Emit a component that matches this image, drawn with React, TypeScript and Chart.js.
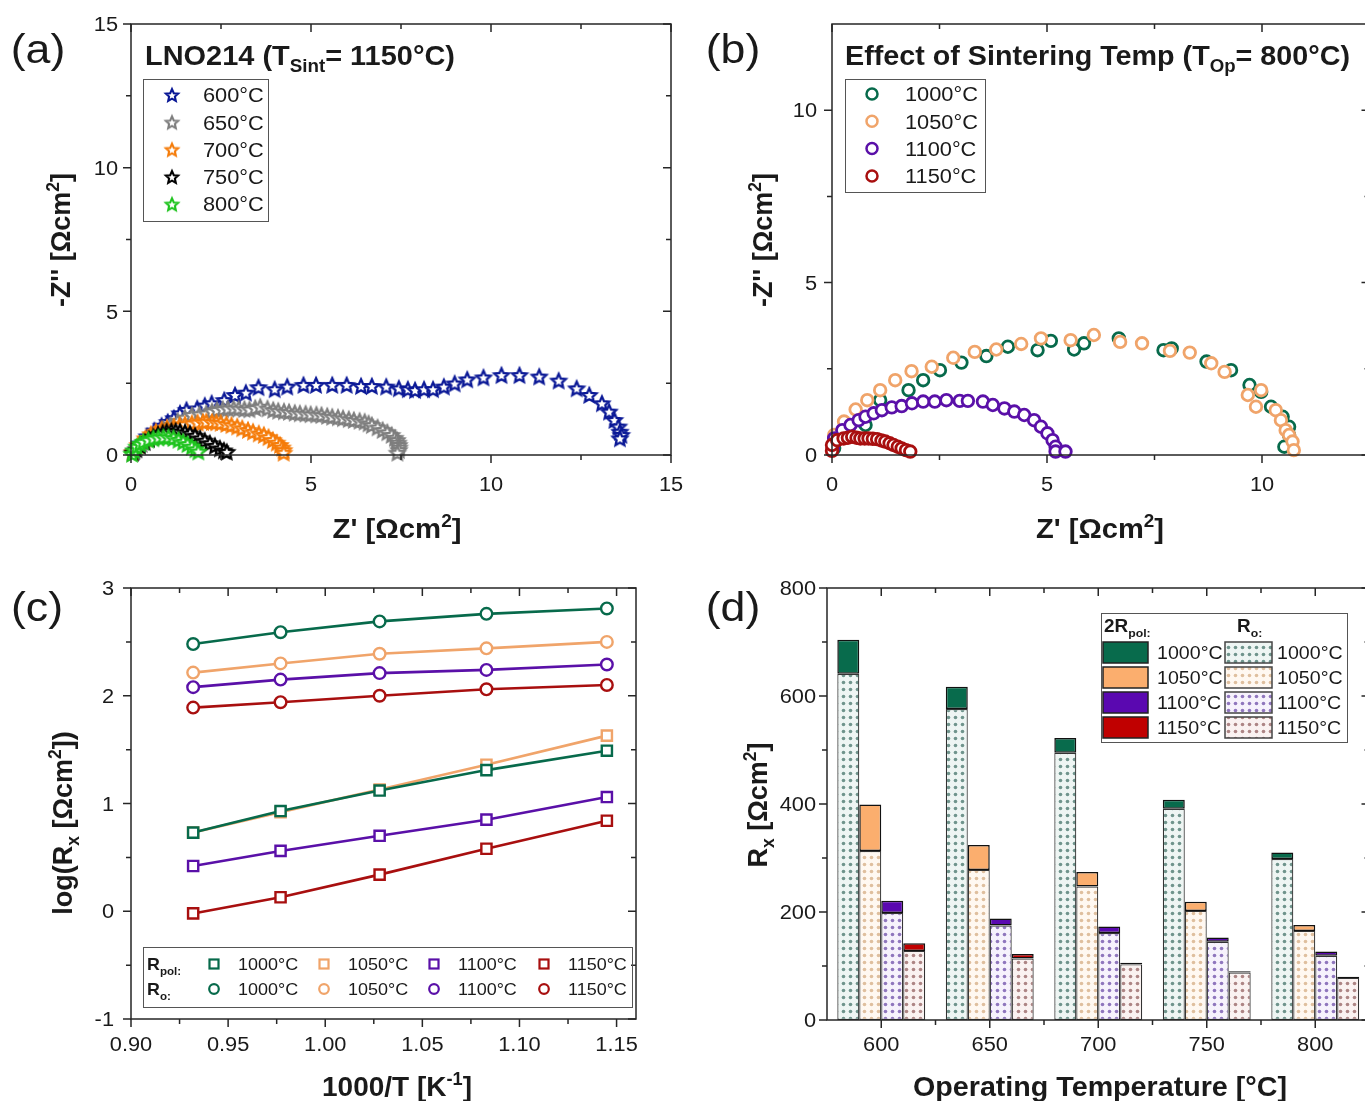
import { useEffect, useRef } from 'react';
import { Chart, registerables } from 'chart.js';

Chart.register(...registerables);

const FONT = "'Liberation Sans', Arial, Helvetica, sans-serif";
const INK = '#1a1a1a';

// ---------------- (a) Nyquist, LNO214 sintered at 1150°C
const opTempLabels = ['600°C', '650°C', '700°C', '750°C', '800°C'];
const opTempColors = ['#0a1896', '#7e7e7e', '#f57c0a', '#000000', '#1fc41f'];
const nyq600: number[][] = [
  [0.08, 0.12], [0.25, 0.4], [0.45, 0.65], [0.65, 0.85], [0.85, 1.02], [1.02, 1.15], [1.19, 1.28], [1.36, 1.45],
  [1.54, 1.57], [1.84, 1.62], [2.05, 1.72], [2.24, 1.8], [2.59, 1.91], [2.89, 2.09], [3.19, 2.17], [3.54, 2.36],
  [3.99, 2.29], [4.34, 2.38], [4.79, 2.44], [5.14, 2.44], [5.59, 2.44], [5.99, 2.44], [6.39, 2.4], [6.69, 2.4],
  [7.09, 2.38], [7.44, 2.32], [7.69, 2.29], [7.89, 2.26], [8.14, 2.29], [8.39, 2.29], [8.69, 2.38], [8.99, 2.49],
  [9.34, 2.63], [9.79, 2.7], [10.29, 2.78], [10.79, 2.78], [11.34, 2.73], [11.88, 2.59], [12.38, 2.32], [12.73, 2.09],
  [13.08, 1.8], [13.28, 1.51], [13.43, 1.22], [13.54, 0.99], [13.58, 0.81], [13.62, 0.7], [13.58, 0.58],
];
const nyq650: number[][] = [
  [0.1, 0.15], [0.3, 0.38], [0.5, 0.6], [0.7, 0.78], [0.9, 0.92], [1.1, 1.05], [1.3, 1.18], [1.5, 1.3], [1.69, 1.39],
  [1.9, 1.42], [2.09, 1.45], [2.25, 1.52], [2.39, 1.57], [2.55, 1.6], [2.69, 1.62], [2.85, 1.63], [2.99, 1.62],
  [3.15, 1.6], [3.29, 1.59], [3.45, 1.64], [3.59, 1.68], [3.79, 1.62], [3.95, 1.57], [4.09, 1.54], [4.25, 1.52],
  [4.39, 1.5], [4.55, 1.47], [4.69, 1.45], [4.85, 1.44], [4.99, 1.42], [5.15, 1.41], [5.29, 1.39], [5.45, 1.36],
  [5.59, 1.33], [5.75, 1.31], [5.89, 1.28], [6.05, 1.25], [6.19, 1.22], [6.35, 1.19], [6.49, 1.16], [6.6, 1.1],
  [6.69, 1.04], [6.85, 0.96], [6.99, 0.87], [7.12, 0.79], [7.24, 0.7], [7.33, 0.6], [7.39, 0.52], [7.42, 0.43],
  [7.44, 0.35], [7.45, 0.26], [7.44, 0.17], [7.4, 0.08],
];
const nyq700: number[][] = [
  [0.05, 0.1], [0.2, 0.35], [0.4, 0.58], [0.55, 0.72], [0.69, 0.81], [0.85, 0.9], [1.0, 0.95], [1.19, 0.99],
  [1.35, 1.04], [1.5, 1.07], [1.69, 1.1], [1.85, 1.13], [2.0, 1.15], [2.09, 1.16], [2.25, 1.15], [2.37, 1.14],
  [2.49, 1.12], [2.65, 1.08], [2.79, 1.04], [2.95, 0.99], [3.09, 0.93], [3.25, 0.87], [3.39, 0.81], [3.55, 0.75],
  [3.69, 0.7], [3.82, 0.62], [3.94, 0.52], [4.05, 0.43], [4.14, 0.35], [4.2, 0.26], [4.24, 0.17], [4.24, 0.08],
];
const nyq750: number[][] = [
  [0.05, 0.08], [0.15, 0.2], [0.25, 0.32], [0.38, 0.45], [0.5, 0.56], [0.62, 0.64], [0.75, 0.72], [0.88, 0.78],
  [0.99, 0.82], [1.12, 0.84], [1.24, 0.84], [1.36, 0.82], [1.5, 0.79], [1.64, 0.75], [1.78, 0.67], [1.92, 0.58],
  [2.05, 0.5], [2.19, 0.41], [2.33, 0.32], [2.47, 0.23], [2.58, 0.16], [2.66, 0.11],
];
const nyq800: number[][] = [
  [0.03, 0.04], [0.08, 0.16], [0.16, 0.29], [0.25, 0.39], [0.34, 0.46], [0.48, 0.53], [0.62, 0.58], [0.76, 0.61],
  [0.9, 0.62], [1.04, 0.62], [1.18, 0.59], [1.32, 0.53], [1.45, 0.46], [1.57, 0.38], [1.69, 0.29], [1.79, 0.2], [1.87, 0.12],
];
const nyqA = [nyq600, nyq650, nyq700, nyq750, nyq800];

// ---------------- (b) Nyquist, effect of sintering temperature at 800°C
const sinterLabels = ['1000°C', '1050°C', '1100°C', '1150°C'];
const sinterColors = ['#076a4b', '#f0a46a', '#5a10a8', '#a80f0f'];
const sin1000: number[][] = [
  [0.05, 0.2], [0.35, 0.55], [0.78, 0.87], [1.12, 1.59], [1.78, 1.88], [2.12, 2.17], [2.51, 2.46], [3.01, 2.68],
  [3.59, 2.87], [4.09, 3.14], [4.78, 3.04], [5.09, 3.31], [5.63, 3.06], [5.86, 3.24], [6.67, 3.38], [7.71, 3.04],
  [7.9, 3.09], [8.71, 2.71], [9.28, 2.46], [9.71, 2.03], [9.98, 1.83], [10.21, 1.4], [10.48, 1.11], [10.63, 0.82],
  [10.63, 0.58], [10.52, 0.24],
];
const sin1050: number[][] = [
  [0.05, 0.58], [0.28, 0.97], [0.55, 1.32], [0.82, 1.59], [1.12, 1.88], [1.47, 2.17], [1.85, 2.43], [2.32, 2.56],
  [2.82, 2.82], [3.32, 2.99], [3.82, 3.06], [4.4, 3.22], [4.86, 3.38], [5.55, 3.33], [6.09, 3.48], [6.7, 3.28],
  [7.21, 3.24], [7.86, 3.02], [8.32, 2.97], [8.82, 2.66], [9.13, 2.41], [9.67, 1.74], [9.86, 1.4], [9.98, 1.88],
  [10.32, 1.3], [10.44, 1.01], [10.55, 0.72], [10.63, 0.58], [10.71, 0.39], [10.74, 0.14],
];
const sin1100: number[][] = [
  [0.02, 0.2], [0.05, 0.48], [0.24, 0.72], [0.43, 0.87], [0.62, 1.01], [0.78, 1.11], [0.97, 1.21], [1.16, 1.3],
  [1.39, 1.38], [1.62, 1.42], [1.86, 1.5], [2.12, 1.55], [2.39, 1.55], [2.66, 1.59], [2.97, 1.57], [3.16, 1.57],
  [3.51, 1.55], [3.74, 1.45], [4.01, 1.35], [4.24, 1.26], [4.47, 1.16], [4.7, 1.01], [4.86, 0.82], [5.01, 0.63],
  [5.13, 0.43], [5.2, 0.24], [5.2, 0.1], [5.43, 0.1],
];
const sin1150: number[][] = [
  [0.0, 0.12], [0.0, 0.29], [0.12, 0.43], [0.27, 0.48], [0.37, 0.5], [0.47, 0.53], [0.57, 0.5], [0.66, 0.48],
  [0.76, 0.48], [0.85, 0.48], [0.95, 0.47], [1.05, 0.46], [1.15, 0.42], [1.24, 0.39], [1.34, 0.34], [1.43, 0.29],
  [1.53, 0.24], [1.62, 0.19], [1.72, 0.14], [1.82, 0.1],
];
const nyqB = [sin1000, sin1050, sin1100, sin1150];

// ---------------- (c) Arrhenius plot
const invT = [0.932, 0.977, 1.028, 1.083, 1.145];
const logRo1000 = [2.48, 2.59, 2.69, 2.76, 2.81];
const logRo1050 = [2.215, 2.3, 2.39, 2.44, 2.5];
const logRo1100 = [2.08, 2.15, 2.21, 2.24, 2.29];
const logRo1150 = [1.89, 1.94, 2.0, 2.06, 2.1];
const logRpol1000 = [0.73, 0.93, 1.12, 1.31, 1.49];
const logRpol1050 = [0.73, 0.92, 1.13, 1.36, 1.63];
const logRpol1100 = [0.42, 0.56, 0.7, 0.85, 1.06];
const logRpol1150 = [-0.02, 0.13, 0.34, 0.58, 0.84];
const logRo = [logRo1000, logRo1050, logRo1100, logRo1150];
const logRpol = [logRpol1000, logRpol1050, logRpol1100, logRpol1150];

// ---------------- (d) stacked bars
const opTempCats = ['600', '650', '700', '750', '800'];
const ro1000 = [641, 576, 495, 391, 298];
const pol1000 = [63, 41, 27, 17, 12];
const ro1050 = [313, 278, 247, 202, 165];
const pol1050 = [86, 46, 27, 17, 11];
const ro1100 = [198, 175, 161, 145, 119];
const pol1100 = [23, 13, 12, 8, 8];
const ro1150 = [128, 114, 103, 88, 78];
const pol1150 = [14, 8, 3, 2.5, 2];
const roBars = [ro1000, ro1050, ro1100, ro1150];
const polBars = [pol1000, pol1050, pol1100, pol1150];
const polColors = ['#086b4c', '#fbae6e', '#5a08b0', '#c00000'];
const roDotColors = ['#6f948c', '#dfbf9e', '#8f76bd', '#ad8585'];
const roBgColors = ['#eef5f3', '#fff8f1', '#f6f2fc', '#faf2f1'];

// ---------------- tick values / labels
const aXMajor = [0, 5, 10, 15];
const aXMinor = [2.5, 7.5, 12.5];
const aXLabels = ['0', '5', '10', '15'];
const aYMajor = [0, 5, 10, 15];
const aYMinor = [2.5, 7.5, 12.5];
const aYLabels = ['0', '5', '10', '15'];
const bXMajor = [0, 5, 10];
const bXMinor = [2.5, 7.5, 12.5];
const bXLabels = ['0', '5', '10'];
const bYMajor = [0, 5, 10];
const bYMinor = [2.5, 7.5];
const bYLabels = ['0', '5', '10'];
const cXMajor = [0.9, 0.95, 1.0, 1.05, 1.1, 1.15];
const cXMinor = [0.925, 0.975, 1.025, 1.075, 1.125];
const cXLabels = ['0.90', '0.95', '1.00', '1.05', '1.10', '1.15'];
const cYMajor = [-1, 0, 1, 2, 3];
const cYMinor = [-0.5, 0.5, 1.5, 2.5];
const cYLabels = ['-1', '0', '1', '2', '3'];
const dYMajor = [0, 200, 400, 600, 800];
const dYMinor = [100, 300, 500, 700];
const dYLabels = ['0', '200', '400', '600', '800'];
const dXMajor = [0, 1, 2, 3, 4];
const dXMinor = [0.5, 1.5, 2.5, 3.5];

// ---------------- helpers
type Seg = { t: string; k?: 'sub' | 'sup' };
type RichOpts = {
  size: number; bold?: boolean; align?: 'left' | 'center' | 'right';
  rot?: number; sx?: number; fitW?: number; color?: string;
};
function drawRich(ctx: CanvasRenderingContext2D, segs: string | Seg[], x: number, y: number, o: RichOpts) {
  const list: Seg[] = typeof segs === 'string' ? [{ t: segs }] : segs;
  ctx.save();
  const fontFor = (s: Seg) => `${o.bold ? 'bold ' : ''}${s.k ? o.size * 0.65 : o.size}px ${FONT}`;
  let w = 0;
  const widths = list.map((s) => {
    ctx.font = fontFor(s);
    const m = ctx.measureText(s.t).width;
    w += m;
    return m;
  });
  let sx = o.sx ?? 1;
  if (o.fitW) sx = o.fitW / w;
  ctx.translate(x, y);
  if (o.rot) ctx.rotate(o.rot);
  ctx.scale(sx, 1);
  let cx = o.align === 'center' ? -w / 2 : o.align === 'right' ? -w : 0;
  const base = o.size * 0.36;
  ctx.fillStyle = o.color ?? INK;
  ctx.textBaseline = 'alphabetic';
  ctx.textAlign = 'left';
  list.forEach((s, i) => {
    ctx.font = fontFor(s);
    const dy = s.k === 'sub' ? o.size * 0.27 : s.k === 'sup' ? -o.size * 0.4 : 0;
    ctx.fillText(s.t, cx, base + dy);
    cx += widths[i];
  });
  ctx.restore();
}

function starCanvas(color: string, r: number, lw: number) {
  const size = Math.ceil(2 * r + lw * 2 + 2);
  const c = document.createElement('canvas');
  c.width = size;
  c.height = size;
  const g = c.getContext('2d')!;
  g.translate(size / 2, size / 2 + r * 0.1);
  g.beginPath();
  for (let i = 0; i < 10; i++) {
    const ang = -Math.PI / 2 + (i * Math.PI) / 5;
    const rad = i % 2 === 0 ? r : r * 0.47;
    g.lineTo(Math.cos(ang) * rad, Math.sin(ang) * rad);
  }
  g.closePath();
  g.fillStyle = '#fff';
  g.fill();
  g.lineWidth = lw;
  g.lineJoin = 'miter';
  g.strokeStyle = color;
  g.stroke();
  return c;
}

function dotPattern(ctx: CanvasRenderingContext2D, bg: string, dot: string) {
  const c = document.createElement('canvas');
  c.width = 7;
  c.height = 7;
  const g = c.getContext('2d')!;
  g.fillStyle = bg;
  g.fillRect(0, 0, 7, 7);
  g.fillStyle = dot;
  g.beginPath();
  g.arc(3.5, 3.5, 1.8, 0, Math.PI * 2);
  g.fill();
  return ctx.createPattern(c, 'repeat')!;
}

type FrameCfg = {
  xMajor: number[]; xMinor: number[]; yMajor: number[]; yMinor: number[];
  xLabels: string[]; yLabels: string[]; xLabelDy: number; yLabelDx: number; labelSize: number;
};
function makeFrame(cfg: FrameCfg) {
  return {
    id: 'frame',
    afterDraw(chart: any) {
      const { ctx, chartArea: ca } = chart;
      const xs = chart.scales.x;
      const ys = chart.scales.y;
      ctx.save();
      ctx.strokeStyle = '#262626';
      ctx.lineWidth = 1.5;
      ctx.strokeRect(ca.left, ca.top, ca.right - ca.left, ca.bottom - ca.top);
      ctx.beginPath();
      const addX = (v: number, len: number) => {
        const p = xs.getPixelForValue(v);
        ctx.moveTo(p, ca.bottom);
        ctx.lineTo(p, ca.bottom + len);
        ctx.moveTo(p, ca.top);
        ctx.lineTo(p, ca.top + len);
      };
      const addY = (v: number, len: number) => {
        const p = ys.getPixelForValue(v);
        ctx.moveTo(ca.left - len, p);
        ctx.lineTo(ca.left, p);
        ctx.moveTo(ca.right - len, p);
        ctx.lineTo(ca.right, p);
      };
      cfg.xMajor.forEach((v) => addX(v, 8));
      cfg.xMinor.forEach((v) => addX(v, 5));
      cfg.yMajor.forEach((v) => addY(v, 8));
      cfg.yMinor.forEach((v) => addY(v, 5));
      ctx.stroke();
      ctx.restore();
      cfg.xMajor.forEach((v, i) =>
        drawRich(ctx, cfg.xLabels[i], xs.getPixelForValue(v), ca.bottom + cfg.xLabelDy, { size: cfg.labelSize, align: 'center', sx: 1.09 }),
      );
      cfg.yMajor.forEach((v, i) =>
        drawRich(ctx, cfg.yLabels[i], ca.left - cfg.yLabelDx, ys.getPixelForValue(v), { size: cfg.labelSize, align: 'right', sx: 1.09 }),
      );
    },
  };
}

const ohmTitle = (pre: string): Seg[] => [{ t: pre + ' [Ωcm' }, { t: '2', k: 'sup' }, { t: ']' }];

function baseOptions(padding: any) {
  return {
    responsive: false,
    animation: false as const,
    events: [] as any[],
    layout: { padding },
    plugins: { legend: { display: false }, tooltip: { enabled: false } },
  };
}

export default function App() {
  const refA = useRef<HTMLCanvasElement>(null);
  const refB = useRef<HTMLCanvasElement>(null);
  const refC = useRef<HTMLCanvasElement>(null);
  const refD = useRef<HTMLCanvasElement>(null);

  useEffect(() => {
    const charts: Chart[] = [];

    // ---------- (a)
    const stars = opTempColors.map((c) => starCanvas(c, 7.5, 2.3));
    const legStars = opTempColors.map((c) => starCanvas(c, 6.5, 2.1));
    charts.push(
      new Chart(refA.current!, {
        type: 'scatter',
        data: {
          datasets: nyqA.map((pts, i) => ({
            label: opTempLabels[i],
            data: pts.map(([x, y]) => ({ x, y })),
            pointStyle: stars[i] as any,
            pointRadius: 7,
            showLine: false,
            order: 4 - i,
            clip: false as any,
          })),
        },
        options: {
          ...baseOptions({ left: 131, top: 24, right: 29, bottom: 105 }),
          scales: {
            x: { type: 'linear', min: 0, max: 15, display: false },
            y: { type: 'linear', min: 0, max: 15, display: false },
          },
        } as any,
        plugins: [
          makeFrame({ xMajor: aXMajor, xMinor: aXMinor, yMajor: aYMajor, yMinor: aYMinor, xLabels: aXLabels, yLabels: aYLabels, xLabelDy: 29, yLabelDx: 13, labelSize: 20 }),
          {
            id: 'decorA',
            afterDraw(chart: any) {
              const ctx = chart.ctx as CanvasRenderingContext2D;
              drawRich(ctx, '(a)', 38, 48, { size: 41, align: 'center', sx: 1.09 });
              drawRich(ctx, [{ t: 'LNO214 (T' }, { t: 'Sint', k: 'sub' }, { t: '= 1150°C)' }], 145, 55, { size: 27, bold: true, fitW: 310 });
              ctx.save();
              ctx.strokeStyle = '#555';
              ctx.lineWidth = 1;
              ctx.strokeRect(143.5, 79.5, 125, 142);
              ctx.restore();
              opTempLabels.forEach((lab, i) => {
                const y = 95 + i * 27.3;
                const img = legStars[i];
                ctx.drawImage(img, 172 - img.width / 2, y - img.height / 2);
                drawRich(ctx, lab, 203, y, { size: 20, sx: 1.09 });
              });
              drawRich(ctx, [{ t: "Z'" }, ...ohmTitle('')], 397, 528, { size: 27, bold: true, align: 'center', fitW: 129 });
              drawRich(ctx, [{ t: "-Z''" }, ...ohmTitle('')], 60, 240, { size: 27, bold: true, align: 'center', rot: -Math.PI / 2 });
            },
          },
        ],
      } as any),
    );

    // ---------- (b)
    charts.push(
      new Chart(refB.current!, {
        type: 'scatter',
        data: {
          datasets: nyqB.map((pts, i) => ({
            label: sinterLabels[i],
            data: pts.map(([x, y]) => ({ x, y })),
            pointStyle: 'circle',
            pointRadius: 5.8,
            pointBorderWidth: 2.8,
            borderColor: sinterColors[i],
            pointBorderColor: sinterColors[i],
            pointBackgroundColor: '#fff',
            backgroundColor: '#fff',
            showLine: false,
            order: 3 - i,
            clip: false as any,
          })),
        },
        options: {
          ...baseOptions({ left: 132, top: 24, right: 50.5, bottom: 105 }),
          scales: {
            x: { type: 'linear', min: 0, max: 12.5, display: false },
            y: { type: 'linear', min: 0, max: 12.5, display: false },
          },
        } as any,
        plugins: [
          makeFrame({ xMajor: bXMajor, xMinor: bXMinor, yMajor: bYMajor, yMinor: bYMinor, xLabels: bXLabels, yLabels: bYLabels, xLabelDy: 29, yLabelDx: 15, labelSize: 20 }),
          {
            id: 'decorB',
            afterDraw(chart: any) {
              const ctx = chart.ctx as CanvasRenderingContext2D;
              drawRich(ctx, '(b)', 33, 48, { size: 41, align: 'center', sx: 1.09 });
              drawRich(ctx, [{ t: 'Effect of Sintering Temp (T' }, { t: 'Op', k: 'sub' }, { t: '= 800°C)' }], 145, 55, { size: 27, bold: true, fitW: 505 });
              ctx.save();
              ctx.strokeStyle = '#555';
              ctx.lineWidth = 1;
              ctx.strokeRect(145.5, 79.5, 140, 113);
              ctx.restore();
              sinterLabels.forEach((lab, i) => {
                const y = 94 + i * 27.3;
                ctx.save();
                ctx.beginPath();
                ctx.arc(172, y, 5.5, 0, Math.PI * 2);
                ctx.fillStyle = '#fff';
                ctx.fill();
                ctx.lineWidth = 2.5;
                ctx.strokeStyle = sinterColors[i];
                ctx.stroke();
                ctx.restore();
                drawRich(ctx, lab, 205, y, { size: 20, sx: 1.09 });
              });
              drawRich(ctx, [{ t: "Z'" }, ...ohmTitle('')], 400, 528, { size: 27, bold: true, align: 'center', fitW: 128 });
              drawRich(ctx, [{ t: "-Z''" }, ...ohmTitle('')], 62, 240, { size: 27, bold: true, align: 'center', rot: -Math.PI / 2 });
            },
          },
        ],
      } as any),
    );

    // ---------- (c)
    const cSets: any[] = [];
    logRo.forEach((vals, i) => {
      cSets.push({
        label: 'Ro ' + sinterLabels[i],
        data: invT.map((x, j) => ({ x, y: vals[j] })),
        showLine: true,
        borderColor: sinterColors[i],
        borderWidth: 2.6,
        pointStyle: 'circle',
        pointRadius: 5.8,
        pointBorderWidth: 2.4,
        pointBorderColor: sinterColors[i],
        pointBackgroundColor: '#fff',
        clip: false,
      });
    });
    logRpol.forEach((vals, i) => {
      cSets.push({
        label: 'Rpol ' + sinterLabels[i],
        data: invT.map((x, j) => ({ x, y: vals[j] })),
        showLine: true,
        borderColor: sinterColors[i],
        borderWidth: 2.6,
        pointStyle: 'rect',
        pointRadius: 7.2,
        pointBorderWidth: 2.4,
        pointBorderColor: sinterColors[i],
        pointBackgroundColor: '#fff',
        clip: false,
      });
    });
    charts.push(
      new Chart(refC.current!, {
        type: 'scatter',
        data: { datasets: cSets },
        options: {
          ...baseOptions({ left: 131, top: 28, right: 64, bottom: 82 }),
          scales: {
            x: { type: 'linear', min: 0.9, max: 1.16, display: false },
            y: { type: 'linear', min: -1, max: 3, display: false },
          },
        } as any,
        plugins: [
          makeFrame({ xMajor: cXMajor, xMinor: cXMinor, yMajor: cYMajor, yMinor: cYMinor, xLabels: cXLabels, yLabels: cYLabels, xLabelDy: 25, yLabelDx: 17, labelSize: 20 }),
          {
            id: 'decorC',
            afterDraw(chart: any) {
              const ctx = chart.ctx as CanvasRenderingContext2D;
              drawRich(ctx, '(c)', 37, 46, { size: 41, align: 'center', sx: 1.09 });
              ctx.save();
              ctx.strokeStyle = '#555';
              ctx.lineWidth = 1;
              ctx.strokeRect(143.5, 387.5, 489, 60);
              ctx.restore();
              const rows = [404, 429];
              drawRich(ctx, [{ t: 'R' }, { t: 'pol:', k: 'sub' }], 147, rows[0], { size: 17, bold: true, sx: 1.05 });
              drawRich(ctx, [{ t: 'R' }, { t: 'o:', k: 'sub' }], 147, rows[1], { size: 17, bold: true, sx: 1.05 });
              const mx = [214, 324, 434, 544];
              const tx = [238, 348, 458, 568];
              sinterLabels.forEach((lab, i) => {
                ctx.save();
                ctx.lineWidth = 2.2;
                ctx.strokeStyle = sinterColors[i];
                ctx.fillStyle = '#fff';
                ctx.fillRect(mx[i] - 4.5, rows[0] - 4.5, 9, 9);
                ctx.strokeRect(mx[i] - 4.5, rows[0] - 4.5, 9, 9);
                ctx.beginPath();
                ctx.arc(mx[i], rows[1], 4.8, 0, Math.PI * 2);
                ctx.fill();
                ctx.stroke();
                ctx.restore();
                drawRich(ctx, lab, tx[i], rows[0], { size: 16.5, sx: 1.09 });
                drawRich(ctx, lab, tx[i], rows[1], { size: 16.5, sx: 1.09 });
              });
              drawRich(ctx, [{ t: '1000/T [K' }, { t: '-1', k: 'sup' }, { t: ']' }], 397, 526, { size: 27, bold: true, align: 'center', fitW: 150 });
              drawRich(ctx, [{ t: 'log(R' }, { t: 'x', k: 'sub' }, { t: ' [Ωcm' }, { t: '2', k: 'sup' }, { t: '])' }], 62, 263, { size: 27, bold: true, align: 'center', rot: -Math.PI / 2 });
            },
          },
        ],
      } as any),
    );

    // ---------- (d)
    const dctx = refD.current!.getContext('2d')!;
    const patterns = roDotColors.map((c, i) => dotPattern(dctx, roBgColors[i], c));
    const dSets: any[] = [];
    roBars.forEach((vals, i) => {
      const stack = 's' + i;
      dSets.push({
        label: 'Ro ' + sinterLabels[i],
        data: vals,
        stack,
        backgroundColor: patterns[i],
        borderColor: '#333',
        borderWidth: 1.2,
        borderSkipped: false,
        categoryPercentage: 0.81,
        barPercentage: 1.0,
      });
      dSets.push({
        label: '2Rpol ' + sinterLabels[i],
        data: polBars[i],
        stack,
        backgroundColor: polColors[i],
        borderColor: '#111',
        borderWidth: 1.5,
        borderSkipped: false,
        categoryPercentage: 0.81,
        barPercentage: 1.0,
      });
    });
    charts.push(
      new Chart(refD.current!, {
        type: 'bar',
        data: { labels: opTempCats, datasets: dSets },
        options: {
          ...baseOptions({ left: 127, top: 28, right: 50.5, bottom: 81 }),
          scales: {
            x: { type: 'category', display: false, stacked: true, offset: true },
            y: { type: 'linear', min: 0, max: 800, display: false, stacked: true },
          },
        } as any,
        plugins: [
          makeFrame({ xMajor: dXMajor, xMinor: dXMinor, yMajor: dYMajor, yMinor: dYMinor, xLabels: opTempCats, yLabels: dYLabels, xLabelDy: 24, yLabelDx: 11, labelSize: 20 }),
          {
            id: 'decorD',
            afterDraw(chart: any) {
              const ctx = chart.ctx as CanvasRenderingContext2D;
              drawRich(ctx, '(d)', 33, 46, { size: 41, align: 'center', sx: 1.09 });
              ctx.save();
              ctx.fillStyle = '#fff';
              ctx.fillRect(401.5, 53.5, 246, 129);
              ctx.strokeStyle = '#555';
              ctx.lineWidth = 1;
              ctx.strokeRect(401.5, 53.5, 246, 129);
              ctx.restore();
              drawRich(ctx, [{ t: '2R' }, { t: 'pol:', k: 'sub' }], 404, 66, { size: 18, bold: true, sx: 1.05 });
              drawRich(ctx, [{ t: 'R' }, { t: 'o:', k: 'sub' }], 537, 66, { size: 18, bold: true, sx: 1.05 });
              sinterLabels.forEach((lab, i) => {
                const top = 82 + i * 25;
                ctx.save();
                ctx.lineWidth = 1.5;
                ctx.strokeStyle = '#222';
                ctx.fillStyle = polColors[i];
                ctx.fillRect(403, top, 45, 21);
                ctx.strokeRect(403, top, 45, 21);
                ctx.fillStyle = patterns[i];
                ctx.fillRect(525, top, 47, 21);
                ctx.strokeStyle = '#444';
                ctx.strokeRect(525, top, 47, 21);
                ctx.restore();
                drawRich(ctx, lab, 457, top + 10.5, { size: 18, sx: 1.09 });
                drawRich(ctx, lab, 577, top + 10.5, { size: 18, sx: 1.09 });
              });
              drawRich(ctx, 'Operating Temperature [°C]', 400, 526, { size: 27, bold: true, align: 'center', fitW: 374 });
              drawRich(ctx, [{ t: 'R' }, { t: 'x', k: 'sub' }, { t: ' [Ωcm' }, { t: '2', k: 'sup' }, { t: ']' }], 57, 245, { size: 27, bold: true, align: 'center', rot: -Math.PI / 2 });
            },
          },
        ],
      } as any),
    );

    return () => charts.forEach((c) => c.destroy());
  }, []);

  const cs = (l: number, t: number, w: number, h: number) => ({ position: 'absolute' as const, left: l, top: t, width: w, height: h });
  return (
    <div style={{ position: 'absolute', left: 0, top: 0, width: 1365, height: 1101, overflow: 'hidden', background: '#fff' }}>
      <canvas ref={refA} width={700} height={560} style={cs(0, 0, 700, 560)} />
      <canvas ref={refB} width={720} height={560} style={cs(700, 0, 720, 560)} />
      <canvas ref={refC} width={700} height={541} style={cs(0, 560, 700, 541)} />
      <canvas ref={refD} width={720} height={541} style={cs(700, 560, 720, 541)} />
    </div>
  );
}
